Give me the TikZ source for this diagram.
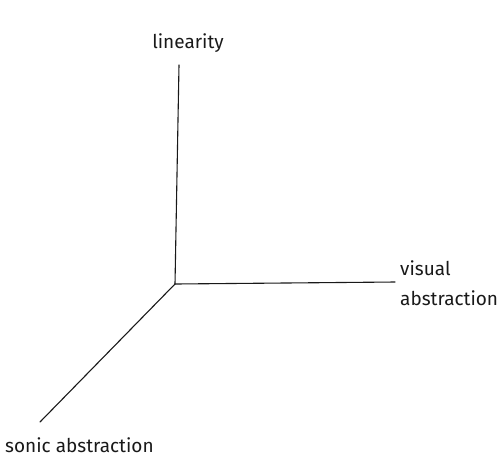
\documentclass[tikz,border=0pt]{standalone}
\usepackage{fontspec}
\setmainfont{Fira Sans}
\usepackage{tikz}
\usetikzlibrary{positioning, calc}
\definecolor{inkdark}{RGB}{25,25,25}
\tikzset{
  axislabel/.style={inner sep=0pt, font=\fontsize{19}{30}\selectfont, color=inkdark},
  axisline/.style={line width=1.1pt, color=inkdark, line cap=round}
}
\begin{document}
\begin{tikzpicture}[x=1pt, y=-1pt]
  \useasboundingbox (0,0) rectangle (502,459);

  % origin and axis ends
  \coordinate (orig) at (175,284);
  \coordinate (vtop) at (179,65);
  \coordinate (hend) at (395,282);
  \coordinate (dend) at (40,422);

  \node[axislabel, anchor=base] (lin) at (188,48) {linearity};
  \node[axislabel, anchor=north west, align=left] (vis) at (400,260) {visual\\abstraction};
  \node[axislabel, anchor=base west] (son) at (5,452) {sonic abstraction};

  \draw[axisline] (orig) -- (vtop);
  \draw[axisline] (orig) -- (hend);
  \draw[axisline] (orig) -- (dend);
\end{tikzpicture}
\end{document}
